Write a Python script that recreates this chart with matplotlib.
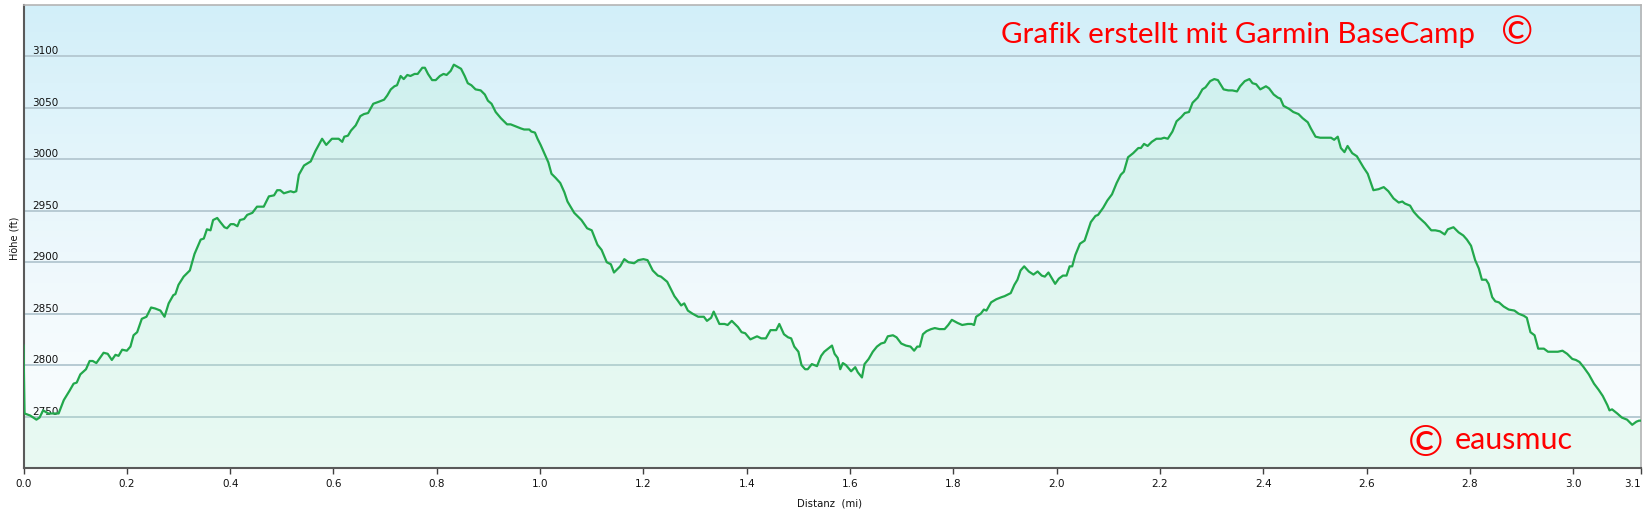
import numpy as np
import matplotlib
matplotlib.use("Agg")
import matplotlib.pyplot as plt
from matplotlib.colors import LinearSegmentedColormap

# ---------------- data ----------------
dist_mi = [
    0.000, 0.002, 0.013, 0.025, 0.031, 0.038, 0.048, 0.068, 0.078, 0.089, 0.097, 0.103, 0.110, 0.121,
    0.128, 0.134, 0.141, 0.155, 0.163, 0.171, 0.178, 0.184, 0.191, 0.200, 0.207, 0.213, 0.220, 0.229,
    0.238, 0.247, 0.255, 0.265, 0.273, 0.281, 0.290, 0.294, 0.300, 0.310, 0.322, 0.331, 0.343, 0.349,
    0.355, 0.362, 0.367, 0.375, 0.381, 0.389, 0.394, 0.401, 0.407, 0.414, 0.419, 0.427, 0.433, 0.443,
    0.452, 0.465, 0.475, 0.485, 0.491, 0.497, 0.504, 0.517, 0.523, 0.528,
    0.533, 0.543, 0.556, 0.565, 0.578, 0.586, 0.597, 0.610, 0.617, 0.621, 0.628, 0.634, 0.643, 0.652,
    0.659, 0.667, 0.677, 0.688, 0.698, 0.704, 0.711, 0.718, 0.723, 0.730, 0.736, 0.743, 0.749, 0.757,
    0.763, 0.772, 0.777, 0.783, 0.791, 0.798, 0.806, 0.813, 0.819, 0.827, 0.833, 0.840, 0.847, 0.854,
    0.860, 0.867, 0.875, 0.885, 0.893, 0.899, 0.906, 0.914, 0.924, 0.936, 0.943, 0.953, 0.963, 0.969,
    0.979, 0.983, 0.990, 0.995, 1.001, 1.008, 1.016, 1.022, 1.030, 1.039, 1.047, 1.053,
    1.066, 1.080, 1.091, 1.100, 1.111, 1.119, 1.129, 1.137, 1.143, 1.155, 1.163, 1.171, 1.182, 1.190,
    1.200, 1.208, 1.218, 1.228, 1.234, 1.246, 1.253, 1.260, 1.266, 1.273, 1.279, 1.286, 1.295, 1.306,
    1.317, 1.323, 1.331, 1.336, 1.347, 1.357, 1.363, 1.371, 1.383, 1.390, 1.397, 1.407, 1.420, 1.428,
    1.437, 1.446, 1.457, 1.463, 1.472, 1.480, 1.486, 1.492, 1.500, 1.506, 1.513, 1.518, 1.526, 1.536,
    1.544, 1.550, 1.565,
    1.570, 1.576, 1.581, 1.586, 1.592, 1.602, 1.610, 1.615, 1.623, 1.628, 1.636, 1.644, 1.652, 1.660,
    1.667, 1.673, 1.683, 1.690, 1.699, 1.708, 1.717, 1.724, 1.730, 1.735, 1.741, 1.748, 1.757, 1.764,
    1.773, 1.783, 1.790, 1.797, 1.808, 1.817, 1.828, 1.835, 1.840, 1.844, 1.853, 1.859, 1.864, 1.873,
    1.883, 1.893, 1.899, 1.911, 1.918, 1.924, 1.930, 1.937, 1.946, 1.955, 1.963, 1.971, 1.977, 1.984,
    1.990, 1.997, 2.004, 2.012, 2.019, 2.025, 2.030, 2.036, 2.045, 2.054, 2.066, 2.075, 2.080, 2.090,
    2.098,
    2.107, 2.116, 2.124, 2.130, 2.138, 2.148, 2.158, 2.163, 2.169, 2.176, 2.184, 2.193, 2.202, 2.208,
    2.215, 2.224, 2.232, 2.241, 2.248, 2.256, 2.263, 2.273, 2.282, 2.288, 2.297, 2.305, 2.312, 2.318,
    2.323, 2.332, 2.340, 2.349, 2.355, 2.364, 2.373, 2.379, 2.386, 2.394, 2.405, 2.411, 2.420, 2.428,
    2.433, 2.439, 2.450, 2.458, 2.468, 2.476, 2.486, 2.492, 2.501, 2.510, 2.519, 2.531, 2.537, 2.544,
    2.550, 2.557, 2.563, 2.572, 2.581, 2.587, 2.594, 2.602, 2.613,
    2.623, 2.633, 2.642, 2.652, 2.662, 2.669, 2.674, 2.684, 2.691, 2.700, 2.713, 2.725, 2.733, 2.742,
    2.751, 2.757, 2.768, 2.778, 2.787, 2.794, 2.802, 2.810, 2.817, 2.823, 2.831, 2.836, 2.843, 2.849,
    2.856, 2.865, 2.875, 2.886, 2.894, 2.904, 2.910, 2.917, 2.925, 2.932, 2.943, 2.951, 2.962, 2.970,
    2.979, 2.988, 2.998, 3.005, 3.012, 3.020, 3.030, 3.040, 3.049, 3.057, 3.066, 3.070, 3.075, 3.085,
    3.094, 3.104, 3.114, 3.122, 3.127, 3.131,
]
elev_ft = [
    2819, 2753, 2751, 2747, 2749, 2756, 2753, 2753, 2766, 2775, 2782, 2783, 2791, 2796,
    2804, 2804, 2802, 2812, 2811, 2805, 2810, 2809, 2815, 2814, 2818, 2829, 2832, 2845,
    2847, 2856, 2855, 2853, 2847, 2860, 2868, 2869, 2878, 2886, 2892, 2908, 2922, 2923,
    2932, 2931, 2941, 2943, 2939, 2934, 2933, 2937, 2937, 2935, 2941, 2942, 2946, 2948,
    2954, 2954, 2964, 2965, 2970, 2970, 2967, 2969, 2968, 2969,
    2985, 2994, 2998, 3008, 3020, 3014, 3020, 3020, 3017, 3022, 3023, 3028, 3033, 3042,
    3044, 3045, 3054, 3056, 3058, 3062, 3068, 3071, 3072, 3081, 3078, 3082, 3081, 3083,
    3083, 3089, 3089, 3083, 3077, 3077, 3081, 3083, 3082, 3086, 3092, 3090, 3088, 3081,
    3074, 3072, 3068, 3067, 3063, 3057, 3054, 3046, 3040, 3034, 3034, 3032, 3030, 3029,
    3029, 3027, 3026, 3020, 3014, 3006, 2997, 2986, 2982, 2977, 2968, 2959,
    2948, 2941, 2933, 2931, 2917, 2912, 2900, 2898, 2890, 2896, 2903, 2900, 2899, 2902,
    2903, 2902, 2892, 2887, 2886, 2881, 2874, 2867, 2863, 2858, 2860, 2853, 2850, 2847,
    2847, 2843, 2846, 2852, 2840, 2840, 2839, 2843, 2837, 2832, 2831, 2825, 2828, 2826,
    2826, 2834, 2834, 2840, 2830, 2827, 2826, 2818, 2813, 2800, 2796, 2796, 2801, 2799,
    2809, 2813, 2819,
    2811, 2807, 2796, 2802, 2800, 2794, 2798, 2793, 2788, 2801, 2806, 2813, 2818, 2821,
    2822, 2828, 2829, 2827, 2821, 2819, 2818, 2814, 2818, 2818, 2830, 2833, 2835, 2836,
    2835, 2835, 2839, 2844, 2841, 2839, 2840, 2840, 2839, 2847, 2850, 2854, 2853, 2861,
    2864, 2866, 2867, 2870, 2878, 2883, 2892, 2896, 2891, 2888, 2891, 2887, 2886, 2890,
    2885, 2879, 2884, 2887, 2887, 2896, 2896, 2907, 2918, 2921, 2939, 2945, 2946, 2953,
    2960,
    2966, 2977, 2985, 2988, 3002, 3006, 3011, 3011, 3015, 3013, 3017, 3020, 3020, 3021,
    3020, 3027, 3037, 3041, 3045, 3046, 3055, 3060, 3068, 3070, 3076, 3078, 3077, 3072,
    3068, 3067, 3067, 3066, 3071, 3076, 3078, 3074, 3073, 3068, 3071, 3069, 3063, 3060,
    3059, 3052, 3049, 3046, 3044, 3040, 3036, 3030, 3022, 3021, 3021, 3021, 3019, 3022,
    3011, 3007, 3013, 3006, 3003, 2998, 2992, 2986, 2970,
    2971, 2973, 2969, 2962, 2958, 2959, 2957, 2955, 2949, 2944, 2938, 2931, 2931, 2930,
    2927, 2932, 2934, 2929, 2926, 2922, 2916, 2902, 2894, 2883, 2883, 2879, 2866, 2862,
    2861, 2857, 2854, 2853, 2850, 2848, 2846, 2832, 2829, 2816, 2816, 2813, 2813, 2813,
    2814, 2811, 2806, 2805, 2803, 2798, 2791, 2782, 2776, 2770, 2761, 2756, 2757, 2753,
    2749, 2747, 2742, 2745, 2746, 2746,
]

x_ticks = [0.0, 0.2, 0.4, 0.6, 0.8, 1.0, 1.2, 1.4, 1.6, 1.8, 2.0, 2.2, 2.4, 2.6, 2.8, 3.0]
x_tick_labels = ["0.0", "0.2", "0.4", "0.6", "0.8", "1.0", "1.2", "1.4", "1.6", "1.8",
                 "2.0", "2.2", "2.4", "2.6", "2.8", "3.0"]
x_end_label = "3.1"
y_ticks = [2750, 2800, 2850, 2900, 2950, 3000, 3050, 3100]
y_range = (2700, 3150)

title_text = "Grafik erstellt mit Garmin BaseCamp"
copy_sign = "\u00a9"
author_text = "eausmuc"
x_label = "Distanz  (mi)"
y_label = "Höhe (ft)"

# ---------------- figure ----------------
W, H = 1648, 516
fig = plt.figure(figsize=(W / 100, H / 100), dpi=100)
fig.patch.set_facecolor("white")

L, R, T, B = 23.5, 1641, 5, 468
ax = fig.add_axes([L / W, 1 - B / H, (R - L) / W, (B - T) / H])

x_max = dist_mi[-1]
ax.set_xlim(0, x_max)
ax.set_ylim(*y_range)

# background gradient (light blue top -> almost white bottom)
bg = LinearSegmentedColormap.from_list("bg", ["#fbfeff", "#f3fafd", "#e4f5fb", "#d2eff9"])
grad = np.linspace(0, 1, 256).reshape(-1, 1)
ax.imshow(grad, cmap=bg, aspect="auto", extent=[0, 1, 0, 1], origin="lower",
          transform=ax.transAxes, zorder=0)

# grid lines
for yv in y_ticks:
    ax.axhline(yv, color="#b7cad3", lw=1.4, zorder=1)

# fill + line
ax.fill_between(dist_mi, elev_ft, y_range[0], color="#b0f0cc", alpha=0.24, lw=0, zorder=2)
ax.plot(dist_mi, elev_ft, color="#22a84c", lw=1.6, zorder=4, solid_joinstyle="round")

# spines
for s in ("top", "right"):
    ax.spines[s].set_color("#b4b4b4")
    ax.spines[s].set_linewidth(1.2)
for s in ("left", "bottom"):
    ax.spines[s].set_color("#5a5a5a")
    ax.spines[s].set_linewidth(1.5)

# x ticks
ax.set_xticks(x_ticks + [x_max])
ax.set_xticklabels(x_tick_labels + [x_end_label])
ax.tick_params(axis="x", direction="out", length=4, width=1, color="#404040",
               labelsize=7.5, labelcolor="#111111", pad=4)
xl = ax.get_xticklabels()
xl[-1].set_horizontalalignment("right")

# y ticks inside the plot, above their grid line
ax.set_yticks(y_ticks)
ax.set_yticklabels([str(v) for v in y_ticks])
ax.tick_params(axis="y", length=0, labelsize=7.5, labelcolor="#111111", pad=-6)
for lbl in ax.get_yticklabels():
    lbl.set_horizontalalignment("left")
    lbl.set_verticalalignment("bottom")
    lbl.set_zorder(3)

# axis labels
fig.text(15 / W, 1 - 238 / H, y_label, rotation=90, ha="center", va="center",
         fontsize=7, color="#111111")
fig.text(830 / W, 1 - 503 / H, x_label, ha="center", va="center",
         fontsize=7.3, color="#111111")

# red annotations
red_font = ["Lato", "DejaVu Sans"]
t1 = fig.text(1001 / W, 1 - 43 / H, title_text, ha="left", va="baseline",
              fontsize=20, color="#ff0000", family=red_font)
fig.canvas.draw()
r = fig.canvas.get_renderer()
w = t1.get_window_extent(r).width
t1.set_fontsize(20 * 474 / w)

fig.text(1517 / W, 1 - 44 / H, copy_sign, ha="center", va="baseline",
         fontsize=28, color="#ff0000", family=red_font)

t2 = fig.text(1455 / W, 1 - 449 / H, author_text, ha="left", va="baseline",
              fontsize=24, color="#ff0000", family=red_font)
fig.canvas.draw()
w2 = t2.get_window_extent(r).width
t2.set_fontsize(24 * 118 / w2)
fig.text(1426 / W, 1 - 456 / H, copy_sign, ha="center", va="baseline",
         fontsize=31, color="#ff0000", family=red_font)

fig.savefig("out.png", dpi=100, facecolor="white")
